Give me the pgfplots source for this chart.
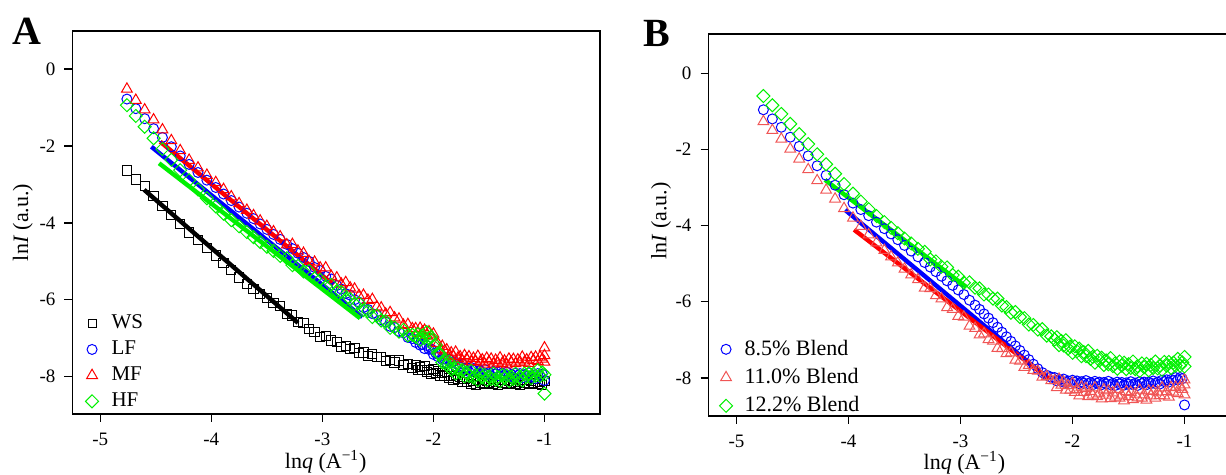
\documentclass[border=0pt]{standalone}
\usepackage{fontspec}
\setmainfont{Liberation Serif}
\usepackage{pgfplots}
\usepackage{pgfplotstable}
\pgfplotsset{compat=1.18}
\definecolor{cblue}{RGB}{0,0,255}
\definecolor{cred}{RGB}{255,0,0}
\definecolor{cgreen}{RGB}{0,240,0}
\definecolor{clred}{RGB}{240,85,85}

\pgfplotstableread{
x ws lf mf hf
-4.76 -2.64 -0.78 -0.52 -0.94
-4.68 -2.87 -1.03 -0.81 -1.22
-4.60 -3.05 -1.29 -1.06 -1.50
-4.52 -3.30 -1.55 -1.32 -1.80
-4.44 -3.56 -1.78 -1.58 -2.08
-4.36 -3.80 -2.02 -1.86 -2.36
-4.28 -4.03 -2.26 -2.12 -2.63
-4.20 -4.25 -2.48 -2.37 -2.89
-4.12 -4.45 -2.69 -2.57 -3.13
-4.04 -4.66 -2.89 -2.76 -3.36
-3.96 -4.85 -3.08 -2.95 -3.57
-3.89 -5.05 -3.25 -3.13 -3.76
-3.82 -5.22 -3.42 -3.32 -3.93
-3.75 -5.42 -3.59 -3.50 -4.09
-3.68 -5.60 -3.75 -3.67 -4.24
-3.62 -5.72 -3.89 -3.81 -4.37
-3.56 -5.84 -4.03 -3.95 -4.50
-3.50 -5.96 -4.17 -4.09 -4.62
-3.44 -6.08 -4.30 -4.23 -4.73
-3.38 -6.17 -4.43 -4.36 -4.86
-3.32 -6.37 -4.56 -4.57 -4.92
-3.27 -6.41 -4.67 -4.56 -5.10
-3.22 -6.57 -4.79 -4.73 -5.12
-3.17 -6.60 -4.90 -4.79 -5.26
-3.12 -6.77 -5.00 -5.00 -5.25
-3.07 -6.84 -5.16 -5.02 -5.45
-3.02 -6.97 -5.24 -5.17 -5.48
-2.97 -6.95 -5.39 -5.17 -5.65
-2.92 -7.06 -5.46 -5.39 -5.61
-2.87 -7.09 -5.63 -5.43 -5.77
-2.83 -7.22 -5.72 -5.59 -5.80
-2.79 -7.20 -5.84 -5.55 -5.98
-2.75 -7.29 -5.88 -5.69 -5.98
-2.71 -7.25 -6.00 -5.72 -6.11
-2.67 -7.38 -6.06 -5.89 -6.09
-2.63 -7.37 -6.20 -5.88 -6.27
-2.59 -7.47 -6.25 -6.01 -6.30
-2.55 -7.42 -6.36 -5.99 -6.45
-2.51 -7.49 -6.39 -6.18 -6.41
-2.47 -7.49 -6.52 -6.21 -6.54
-2.43 -7.59 -6.58 -6.37 -6.56
-2.39 -7.56 -6.69 -6.33 -6.73
-2.35 -7.63 -6.72 -6.47 -6.72
-2.31 -7.58 -6.82 -6.50 -6.83
-2.27 -7.69 -6.86 -6.66 -6.78
-2.23 -7.68 -6.98 -6.64 -6.93
-2.19 -7.77 -7.01 -6.75 -6.91
-2.16 -7.69 -7.11 -6.75 -6.96
-2.14 -7.82 -7.04 -6.87 -6.89
-2.12 -7.75 -7.18 -6.74 -7.04
-2.10 -7.82 -7.16 -6.84 -6.93
-2.08 -7.72 -7.27 -6.79 -6.99
-2.06 -7.87 -7.19 -6.92 -6.84
-2.04 -7.82 -7.29 -6.83 -6.99
-2.02 -7.93 -7.28 -6.94 -6.97
-2.00 -7.81 -7.42 -6.89 -7.20
-1.98 -7.90 -7.38 -7.13 -7.18
-1.96 -7.85 -7.48 -7.14 -7.39
-1.94 -7.97 -7.41 -7.30 -7.41
-1.92 -7.91 -7.55 -7.21 -7.63
-1.90 -7.98 -7.53 -7.33 -7.58
-1.88 -7.88 -7.64 -7.30 -7.70
-1.86 -8.03 -7.55 -7.45 -7.61
-1.84 -7.98 -7.64 -7.38 -7.81
-1.82 -8.09 -7.61 -7.47 -7.78
-1.80 -7.96 -7.74 -7.36 -7.92
-1.78 -8.06 -7.68 -7.52 -7.78
-1.76 -8.01 -7.75 -7.48 -7.89
-1.74 -8.13 -7.67 -7.59 -7.83
-1.72 -8.07 -7.80 -7.45 -7.99
-1.70 -8.13 -7.77 -7.54 -7.89
-1.68 -8.04 -7.87 -7.48 -7.98
-1.66 -8.18 -7.76 -7.61 -7.85
-1.64 -8.12 -7.83 -7.52 -8.03
-1.62 -8.21 -7.80 -7.60 -7.97
-1.60 -8.08 -7.91 -7.47 -8.09
-1.58 -8.16 -7.84 -7.62 -7.92
-1.56 -8.09 -7.90 -7.56 -8.02
-1.54 -8.20 -7.81 -7.67 -7.95
-1.52 -8.12 -7.93 -7.52 -8.09
-1.50 -8.17 -7.89 -7.61 -7.99
-1.48 -8.06 -7.98 -7.54 -8.06
-1.46 -8.19 -7.86 -7.67 -7.92
-1.44 -8.13 -7.93 -7.57 -8.08
-1.42 -8.22 -7.88 -7.64 -8.01
-1.40 -8.08 -7.99 -7.51 -8.12
-1.38 -8.16 -7.91 -7.65 -7.96
-1.36 -8.09 -7.97 -7.59 -8.04
-1.34 -8.20 -7.88 -7.69 -7.97
-1.32 -8.12 -7.99 -7.54 -8.11
-1.30 -8.17 -7.94 -7.62 -8.00
-1.28 -8.06 -8.02 -7.55 -8.06
-1.26 -8.19 -7.91 -7.66 -7.92
-1.24 -8.13 -7.97 -7.56 -8.07
-1.22 -8.22 -7.92 -7.62 -8.00
-1.20 -8.08 -8.03 -7.49 -8.10
-1.18 -8.16 -7.95 -7.62 -7.92
-1.16 -8.09 -8.00 -7.56 -8.00
-1.14 -8.20 -7.90 -7.65 -7.91
-1.12 -8.12 -8.01 -7.50 -8.04
-1.10 -8.17 -7.96 -7.57 -7.92
-1.08 -8.06 -8.05 -7.49 -7.98
-1.06 -8.19 -7.92 -7.60 -7.83
-1.04 -8.13 -7.98 -7.49 -7.98
-1.02 -8.22 -7.93 -7.54 -7.89
-1.00 -8.12 -8.10 -7.25 -7.95
-1.00 nan nan -7.45 -8.44
-1.00 nan nan -7.62 nan
}\tabA

\pgfplotstableread{
x b85 b110 b122
-4.76 -0.96 -1.27 -0.60
-4.68 -1.20 -1.50 -0.84
-4.60 -1.42 -1.73 -1.07
-4.52 -1.68 -1.99 -1.33
-4.44 -1.92 -2.25 -1.60
-4.36 -2.17 -2.53 -1.86
-4.28 -2.43 -2.82 -2.13
-4.20 -2.68 -3.07 -2.39
-4.12 -2.94 -3.30 -2.64
-4.04 -3.19 -3.55 -2.91
-3.96 -3.41 -3.80 -3.16
-3.89 -3.58 -4.02 -3.37
-3.82 -3.74 -4.24 -3.57
-3.75 -3.91 -4.45 -3.75
-3.68 -4.08 -4.65 -3.91
-3.62 -4.22 -4.82 -4.06
-3.56 -4.37 -4.98 -4.20
-3.50 -4.52 -5.14 -4.34
-3.44 -4.67 -5.29 -4.47
-3.38 -4.82 -5.42 -4.61
-3.32 -4.97 -5.64 -4.69
-3.27 -5.09 -5.65 -4.89
-3.22 -5.21 -5.84 -4.94
-3.17 -5.33 -5.92 -5.08
-3.12 -5.45 -6.15 -5.10
-3.07 -5.57 -6.20 -5.30
-3.02 -5.69 -6.38 -5.34
-2.97 -5.81 -6.40 -5.50
-2.92 -5.96 -6.64 -5.49
-2.87 -6.09 -6.70 -5.63
-2.83 -6.20 -6.87 -5.65
-2.79 -6.32 -6.84 -5.81
-2.75 -6.43 -6.99 -5.81
-2.71 -6.55 -7.03 -5.92
-2.67 -6.67 -7.22 -5.92
-2.63 -6.80 -7.23 -6.10
-2.59 -6.92 -7.36 -6.14
-2.55 -7.04 -7.34 -6.29
-2.51 -7.16 -7.53 -6.27
-2.47 -7.28 -7.56 -6.40
-2.43 -7.40 -7.72 -6.43
-2.39 -7.52 -7.67 -6.60
-2.35 -7.64 -7.80 -6.61
-2.31 -7.76 -7.82 -6.73
-2.27 -7.86 -7.98 -6.72
-2.23 -7.93 -7.96 -6.89
-2.19 -7.98 -8.07 -6.91
-2.16 -7.99 -8.07 -6.99
-2.14 -8.08 -8.25 -6.93
-2.12 -8.04 -8.03 -7.14
-2.10 -8.09 -8.19 -7.03
-2.08 -8.03 -8.11 -7.15
-2.06 -8.12 -8.32 -7.01
-2.04 -8.08 -8.20 -7.23
-2.02 -8.15 -8.32 -7.18
-2.00 -8.06 -8.14 -7.34
-1.98 -8.12 -8.38 -7.17
-1.96 -8.08 -8.30 -7.30
-1.94 -8.15 -8.47 -7.23
-1.92 -8.10 -8.24 -7.43
-1.90 -8.14 -8.38 -7.32
-1.88 -8.07 -8.28 -7.43
-1.86 -8.15 -8.49 -7.29
-1.84 -8.12 -8.35 -7.50
-1.82 -8.18 -8.45 -7.45
-1.80 -8.09 -8.26 -7.60
-1.78 -8.14 -8.49 -7.42
-1.76 -8.11 -8.40 -7.54
-1.74 -8.18 -8.55 -7.47
-1.72 -8.12 -8.31 -7.66
-1.70 -8.16 -8.45 -7.54
-1.68 -8.09 -8.34 -7.64
-1.66 -8.18 -8.54 -7.48
-1.64 -8.14 -8.39 -7.69
-1.62 -8.20 -8.50 -7.62
-1.60 -8.11 -8.30 -7.76
-1.58 -8.16 -8.53 -7.57
-1.56 -8.12 -8.45 -7.68
-1.54 -8.19 -8.60 -7.60
-1.52 -8.13 -8.36 -7.77
-1.50 -8.17 -8.49 -7.64
-1.48 -8.10 -8.38 -7.74
-1.46 -8.18 -8.57 -7.57
-1.44 -8.14 -8.42 -7.77
-1.42 -8.20 -8.52 -7.69
-1.40 -8.10 -8.32 -7.82
-1.38 -8.15 -8.53 -7.62
-1.36 -8.11 -8.44 -7.72
-1.34 -8.18 -8.58 -7.63
-1.32 -8.11 -8.34 -7.80
-1.30 -8.15 -8.47 -7.66
-1.28 -8.08 -8.35 -7.74
-1.26 -8.15 -8.53 -7.57
-1.24 -8.11 -8.37 -7.75
-1.22 -8.16 -8.46 -7.67
-1.20 -8.06 -8.26 -7.79
-1.18 -8.10 -8.47 -7.58
-1.16 -8.05 -8.36 -7.68
-1.14 -8.11 -8.50 -7.58
-1.12 -8.04 -8.25 -7.74
-1.10 -8.07 -8.37 -7.60
-1.08 -7.99 -8.24 -7.68
-1.06 -8.05 -8.41 -7.50
-1.04 -7.99 -8.24 -7.68
-1.02 -8.02 -8.30 -7.59
-1.00 -8.71 -8.18 -7.45
-1.00 nan -8.44 -7.70
-1.00 nan -8.05 nan
}\tabB

\pgfplotsset{
  common/.style={
    scale only axis,
    xmin=-5.25, xmax=-0.5,
    xtick={-5,-4,-3,-2,-1},
    ytick={-8,-6,-4,-2,0},
    tick align=outside,
    xtick pos=left, ytick pos=left,
    major tick length=4pt,
    tick style={black, line width=0.7pt},
    axis line style={line width=0.7pt},
    ticklabel style={font=\fontsize{9.5}{11}\selectfont},
    /pgf/number format/assume math mode=true,
    xticklabel style={yshift=-2pt},
    yticklabel style={xshift=-1pt},
    xlabel={ln\textit{q} (A\textsuperscript{−1})},
    ylabel={ln\textit{I} (a.u.)},
    label style={font=\fontsize{11}{13}\selectfont},
    legend cell align=left,
    legend image code/.code={\draw[##1] plot coordinates {(0.12cm,0cm)};},
    mksq/.style={only marks, mark=square, mark size=2.3pt, mark options={solid, line width=0.5pt}},
    mkci/.style={only marks, mark=o, mark size=2.5pt, mark options={solid, line width=0.5pt}},
    mktr/.style={only marks, mark=triangle, mark size=3.1pt, mark options={solid, line width=0.5pt}},
    mkdi/.style={only marks, mark=square, mark size=2.3pt, mark options={solid, rotate=45, line width=0.5pt}},
  }
}

\begin{document}
\begin{tikzpicture}
\begin{axis}[common,
  at={(36.25pt,30.5pt)}, anchor=south west,
  width=263.75pt, height=191.5pt,
  ymin=-8.97, ymax=0.99,
  xlabel style={at={(axis description cs:0.48,-0.143)}, anchor=base},
  ylabel style={at={(axis description cs:-0.094,0.5)}, anchor=center},
  legend style={draw=none, fill=none, at={(axis description cs:0.024,0.27)}, anchor=north west,
    font=\fontsize{10.5}{12}\selectfont, row sep=0.6pt, inner sep=0pt,
    /tikz/every odd column/.append style={column sep=4.5pt}},
]
\addplot[mksq, black, forget plot] table[x=x, y=ws] {\tabA};
\addplot[mkci, cblue, forget plot] table[x=x, y=lf] {\tabA};
\addplot[mktr, cred, forget plot] table[x=x, y=mf] {\tabA};
\addplot[mkdi, cgreen, forget plot] table[x=x, y=hf] {\tabA};
\addplot[black, line width=2.2pt, forget plot] coordinates {(-4.605,-3.14) (-3.22,-6.60)};
\addplot[cblue, line width=2.2pt, forget plot] coordinates {(-4.54,-2.02) (-2.64,-6.45)};
\addplot[cred, line width=2.2pt, forget plot] coordinates {(-4.46,-1.89) (-2.90,-5.61)};
\addplot[cgreen, line width=2.2pt, forget plot] coordinates {(-4.47,-2.45) (-2.66,-6.48)};
\addlegendimage{mksq, black, mark size=2pt}
\addlegendentry{WS}
\addlegendimage{mkci, cblue}
\addlegendentry{LF}
\addlegendimage{mktr, cred}
\addlegendentry{MF}
\addlegendimage{mkdi, cgreen}
\addlegendentry{HF}
\end{axis}

\begin{axis}[common,
  at={(354.25pt,29.5pt)}, anchor=south west,
  width=266pt, height=191pt,
  ymin=-9.0, ymax=1.03,
  xlabel style={at={(axis description cs:0.481,-0.139)}, anchor=base},
  ylabel style={at={(axis description cs:-0.089,0.51)}, anchor=center},
  legend style={draw=none, fill=none, at={(axis description cs:0.02,0.21)}, anchor=north west,
    font=\fontsize{11}{13}\selectfont, row sep=1pt, inner sep=0pt,
    /tikz/every odd column/.append style={column sep=4pt}},
]
\addplot[mkci, cblue, forget plot] table[x=x, y=b85] {\tabB};
\addplot[mktr, clred, forget plot] table[x=x, y=b110] {\tabB};
\addplot[mkdi, cgreen, forget plot] table[x=x, y=b122] {\tabB};
\addplot[cblue, line width=2.2pt, forget plot] coordinates {(-4.03,-3.59) (-2.205,-8.05)};
\addplot[cred, line width=2.2pt, forget plot] coordinates {(-3.95,-4.11) (-2.21,-8.02)};
\addplot[cgreen, line width=2.2pt, forget plot] coordinates {(-4.21,-2.80) (-2.95,-5.61)};
\addlegendimage{mkci, cblue}
\addlegendentry{8.5\% Blend}
\addlegendimage{mktr, clred}
\addlegendentry{11.0\% Blend}
\addlegendimage{mkdi, cgreen}
\addlegendentry{12.2\% Blend}
\end{axis}

\node[font=\fontsize{20}{24}\selectfont\bfseries] at (13.5pt,222pt) {A};
\node[font=\fontsize{20}{24}\selectfont\bfseries] at (328.5pt,221pt) {B};
\pgfresetboundingbox
\useasboundingbox (0,0) rectangle (613pt,237.5pt);
\end{tikzpicture}
\end{document}
